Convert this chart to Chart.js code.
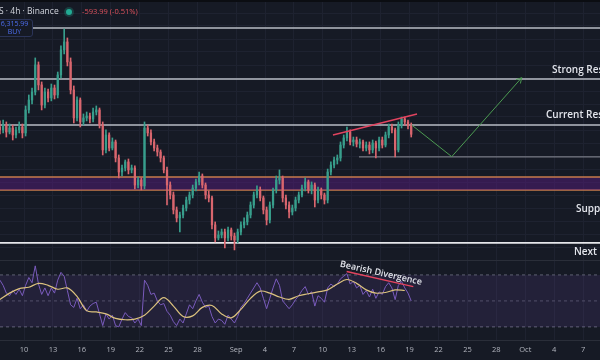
<!DOCTYPE html>
<html>
<head>
<meta charset="utf-8">
<title>BTCUSDT 4h</title>
<script src="https://cdn.jsdelivr.net/npm/chart.js@4.4.1/dist/chart.umd.min.js"></script>
<style>
  html, body { margin: 0; padding: 0; background: #161a25; }
  #frame { position: relative; width: 600px; height: 360px; overflow: hidden; background: #161a25; font-family: "Open Sans", sans-serif; }
  canvas { position: absolute; left: 0; display: block; }
  #priceCanvas { top: 0; }
  #rsiCanvas { top: 260px; }
  .topbar { position: absolute; left: 0; top: 0; width: 600px; height: 2px; background: #0b0d12; }
  .symbol { position: absolute; left: -1px; top: 5px; font-size: 8.5px; color: #d1d4dc; white-space: nowrap; }
  .dot { position: absolute; left: 66px; top: 9px; width: 6px; height: 6px; border-radius: 50%; background: #22ab94; box-shadow: 0 0 0 2px rgba(34, 171, 148, 0.25); }
  .change { position: absolute; left: 82px; top: 6px; font-size: 7.5px; color: #e0525c; white-space: nowrap; }
  .pricebox { position: absolute; left: -4px; top: 19px; width: 35px; height: 16px; border: 1px solid #2b3458; border-radius: 3px; background: #161a25; color: #4d6ef0; text-align: center; font-size: 7px; line-height: 8px; }
</style>
</head>
<body>
<div id="frame">
  <canvas id="priceCanvas" width="600" height="260"></canvas>
  <canvas id="rsiCanvas" width="600" height="100"></canvas>
  <div class="topbar"></div>
  <div class="symbol">S · 4h · Binance</div>
  <div class="dot"></div>
  <div class="change">-593.99 (-0.51%)</div>
  <div class="pricebox">6,315.99<br>BUY</div>
</div>
<script>
// x axis is "day of August" (Sep 1 = 32, Oct 1 = 62)
const tickDays = [10, 13, 16, 19, 22, 25, 28, 32, 35, 38, 41, 44, 47, 50, 53, 56, 59, 62, 65, 68];
const tickLabels = ["10", "13", "16", "19", "22", "25", "28", "Sep", "4", "7", "10", "13", "16", "19", "22", "25", "28", "Oct", "4", "7"];

// 8h candles starting Aug 7 12:00
const CANDLE_START = 7.5;
const CANDLE_STEP = 1 / 3;

const opens = [
  116880, 116650, 117030, 116490, 116800, 116260, 116650, 116880, 116420, 118200,
  118970, 119590, 121690, 120140, 118580, 119590, 119130, 119900, 119360, 120910,
  122850, 123470, 121920, 119750, 117580, 118970, 117270, 117580, 117730, 117500,
  118040, 118200, 117030, 115100, 116260, 115250, 115720, 114480, 113390, 113700,
  114170, 113550, 113700, 112380, 112770, 112310, 116800, 116420, 115720, 115250,
  114940, 114480, 113550, 112380, 111610, 110450, 109830, 110060, 110600, 111220,
  111610, 112150, 112620, 113080, 112380, 111610, 111380, 109290, 108280, 108510,
  108740, 108280, 108900, 108430, 108120, 108740, 109290, 109520, 110060, 110830,
  111610, 112000, 111380, 110450, 109670, 110830, 112000, 112770, 112930, 111380,
  110830, 110290, 110600, 111220, 111610, 112150, 112620, 112000, 112380, 111220,
  112000, 111610, 111220, 113390, 113930, 114320, 114480, 115480, 116030, 116490,
  115720, 115870, 115560, 115720, 115250, 115480, 115100, 115640, 115250, 115870,
  115480, 116260, 116880, 116650, 115100, 117030, 117500, 117270, 116960
];
const highs = [
  117350, 117420, 117270, 117110, 117030, 116880, 117270, 117110, 118510, 119360,
  119900, 122230, 121920, 120370, 119900, 119820, 120210, 120130, 121140, 123160,
  124470, 123780, 122230, 120060, 119210, 119130, 117890, 118040, 117960, 118350,
  118510, 118350, 117270, 116650, 116420, 116030, 115870, 114710, 113930, 114320,
  114400, 113930, 113860, 113000, 112930, 117270, 117030, 116650, 115950, 115480,
  115100, 114630, 113780, 112620, 111840, 110680, 110290, 110830, 111450, 111840,
  112380, 112850, 113390, 113240, 112540, 111920, 111530, 109520, 108820, 108970,
  108970, 109130, 109050, 108660, 108970, 109520, 109830, 110290, 111070, 111840,
  112310, 112230, 111530, 110680, 111070, 112150, 113080, 113550, 113080, 111610,
  111070, 110830, 111450, 111840, 112380, 112930, 112770, 112620, 112540, 112230,
  112150, 111760, 113620, 114170, 114550, 114710, 115720, 116260, 116880, 116650,
  116100, 116100, 115950, 115870, 115720, 115720, 115870, 115790, 116100, 116100,
  116490, 117110, 117110, 116800, 117270, 117650, 117650, 117420, 117190
];
const lows = [
  116340, 116420, 116100, 116340, 115870, 116030, 116420, 116030, 116180, 117960,
  118660, 119360, 119750, 118200, 118350, 118820, 118900, 119050, 119130, 120680,
  122540, 121610, 119440, 117190, 117350, 116880, 117030, 117350, 117190, 117270,
  117810, 116800, 114710, 114870, 115020, 115100, 114170, 112930, 113080, 113470,
  113240, 113320, 112080, 112150, 112000, 112080, 116180, 115490, 115020, 114630,
  114170, 113320, 110840, 111300, 110140, 109520, 108740, 109830, 110370, 110910,
  111380, 111920, 112380, 112150, 111300, 111070, 108970, 107970, 108120, 108280,
  107500, 108050, 108120, 107350, 107890, 108510, 109050, 109290, 109830, 110600,
  111380, 111150, 110140, 109290, 109440, 110600, 111760, 112460, 111070, 110520,
  109830, 110060, 110370, 110990, 111450, 111920, 111760, 111690, 110680, 110990,
  111300, 110910, 110990, 113160, 113700, 114010, 114240, 115250, 115790, 115490,
  115410, 115330, 115250, 115020, 115020, 114790, 114870, 114480, 115020, 115250,
  115330, 116030, 116420, 114550, 114940, 116800, 117030, 116730, 116100
];
const closes = [
  116650, 117030, 116490, 116800, 116260, 116650, 116880, 116420, 118200, 118970,
  119590, 121690, 120140, 118580, 119590, 119130, 119900, 119360, 120910, 122850,
  123470, 121920, 119750, 117580, 118970, 117270, 117580, 117730, 117500, 118040,
  118200, 117030, 115100, 116260, 115250, 115720, 114480, 113390, 113700, 114170,
  113550, 113700, 112380, 112770, 112310, 116800, 116420, 115720, 115250, 114940,
  114480, 113550, 112380, 111610, 110450, 109830, 110060, 110600, 111220, 111610,
  112150, 112620, 113080, 112380, 111610, 111380, 109290, 108280, 108510, 108740,
  108280, 108900, 108430, 108120, 108740, 109290, 109520, 110060, 110830, 111610,
  112000, 111380, 110450, 109670, 110830, 112000, 112770, 112930, 111380, 110830,
  110290, 110600, 111220, 111610, 112150, 112620, 112000, 112380, 111220, 112000,
  111610, 111220, 113390, 113930, 114320, 114480, 115480, 116030, 116490, 115720,
  115870, 115560, 115720, 115250, 115480, 115100, 115640, 115250, 115870, 115480,
  116260, 116880, 116650, 115100, 117030, 117500, 117270, 116960, 116316
];

// RSI(14), one value per candle
const rsiValues = [
  66, 62, 56, 54, 58, 55, 59, 54, 62, 68,
  64, 77, 63, 55, 60, 54, 60, 56, 66, 72,
  69, 58, 47, 45, 52, 44, 47, 42, 46, 48,
  49, 40, 31, 40, 36, 39, 31, 30, 36, 41,
  38, 37, 33, 36, 31, 66, 62, 55, 56, 50,
  47, 48, 42, 39, 34, 31, 36, 33, 40, 47,
  44, 50, 55, 49, 45, 46, 38, 33, 36, 35,
  32, 39, 36, 33, 38, 45, 48, 52, 56, 60,
  64, 60, 52, 44, 52, 60, 67, 62, 50, 47,
  44, 47, 51, 54, 58, 61, 55, 57, 46, 54,
  52, 49, 60, 63, 61, 63, 67, 69, 71, 63,
  65, 60, 62, 55, 58, 53, 59, 52, 57, 55,
  61, 64, 60, 51, 62, 65, 60, 56, 50
];
// RSI moving average, read once per day
const rsiMaValues = [
  51, 56, 59.5, 60.5, 63.5, 62, 59, 60, 53.5, 42.5, 41.5, 40, 36.5, 35.5, 36,
  39, 46, 52.5, 46, 38, 38.5, 45, 46.5, 40, 37, 43.5, 52, 57.5, 56, 53,
  51.2, 54, 55.5, 57, 58.5, 63, 66.5, 63.5, 58.5, 56, 56.5, 58.5, 58
];
const rsiBands = [70, 50, 30];

// drawn levels
const resistanceLevels = [124550, 120600, 117030]; // top, strong, current
const supportZone = [112000, 113000];
const nextSupport = 107890;
const neckline = 114560;
const necklineStartDay = 44.75;
const wedgeDays = [42.05, 50.77];
const wedgePrices = [116260, 117890];
const projectionDays = [50.22, 54.37, 61.63];
const projectionPrices = [117030, 114580, 120700];
const divergenceDays = [43.47, 50.38];
const divergenceRsi = [72.6, 61.0];

const levelLabels = ["Strong Resistance", "Current Resistance", "Support", "Next Support"];
const levelLabelDays = [64.77, 64.15, 67.26, 67.05];
const levelLabelPrices = [resistanceLevels[1], resistanceLevels[2], supportZone[0], nextSupport];

// ---- styling ----
const X_MIN = 7.51, X_MAX = 69.75;
const PRICE_MIN = 106570, PRICE_MAX = 126720;
const RSI_MIN = 19.9, RSI_MAX = 81.5;
const GRID = "#1e2230";
const UP = "#389e8c";
const DOWN = "#d9666e";
const LEVEL = "#b9bcc5";
const ORANGE = "#c97b4b";
const FONT = '"Open Sans", sans-serif';

const candleDays = opens.map((_, i) => CANDLE_START + i * CANDLE_STEP);
const candleColors = opens.map((o, i) => (closes[i] >= o ? UP : DOWN));
const hline = (value, from = X_MIN, to = X_MAX) => [{ x: from, y: value }, { x: to, y: value }];
const pairs = (xs, ys) => xs.map((x, i) => ({ x, y: ys[i] }));

const lineBase = { type: "line", pointRadius: 0, tension: 0, fill: false };

const xGrid = {
  type: "linear",
  min: X_MIN,
  max: X_MAX,
  offset: false,
  afterBuildTicks: (scale) => { scale.ticks = tickDays.map((v) => ({ value: v })); },
  grid: { color: GRID, drawTicks: false, offset: false },
  border: { display: false },
};

const priceNotes = {
  id: "priceNotes",
  afterDatasetsDraw(chart) {
    const { ctx, scales: { x, y } } = chart;
    ctx.save();
    // arrow head on the projected path
    const idx = chart.data.datasets.findIndex((d) => d.label === "projection");
    const pts = chart.getDatasetMeta(idx).data;
    const a = pts[pts.length - 2], b = pts[pts.length - 1];
    const ang = Math.atan2(b.y - a.y, b.x - a.x);
    ctx.strokeStyle = "#4c9a52";
    ctx.lineWidth = 1;
    ctx.beginPath();
    ctx.moveTo(b.x - 6 * Math.cos(ang - 0.5), b.y - 6 * Math.sin(ang - 0.5));
    ctx.lineTo(b.x, b.y);
    ctx.lineTo(b.x - 6 * Math.cos(ang + 0.5), b.y - 6 * Math.sin(ang + 0.5));
    ctx.stroke();

    // level captions
    const dy = [-9, -10, 19, 9];
    ctx.font = "600 10px " + FONT;
    ctx.fillStyle = "#e3e5ec";
    ctx.textBaseline = "middle";
    levelLabels.forEach((t, i) => {
      ctx.fillText(t, x.getPixelForValue(levelLabelDays[i]), y.getPixelForValue(levelLabelPrices[i]) + dy[i]);
    });
    ctx.restore();
  },
};

new Chart(document.getElementById("priceCanvas"), {
  type: "bar",
  data: {
    datasets: [
      { ...lineBase, data: hline(supportZone[1]), borderColor: ORANGE, borderWidth: 1.5,
        fill: { value: supportZone[0] }, backgroundColor: "rgba(92, 28, 132, 0.45)", order: 6 },
      { ...lineBase, data: hline(supportZone[0]), borderColor: ORANGE, borderWidth: 1.5, order: 6 },
      { ...lineBase, data: hline(resistanceLevels[0]), borderColor: LEVEL, borderWidth: 1.5, order: 5 },
      { ...lineBase, data: hline(resistanceLevels[1]), borderColor: LEVEL, borderWidth: 1.5, order: 5 },
      { ...lineBase, data: hline(resistanceLevels[2]), borderColor: LEVEL, borderWidth: 1.5, order: 5 },
      { ...lineBase, data: hline(nextSupport), borderColor: "#e6e7eb", borderWidth: 1.8, order: 5 },
      { ...lineBase, data: hline(neckline, necklineStartDay), borderColor: "#8f929b", borderWidth: 1, order: 5 },
      { type: "bar", data: candleDays.map((d, i) => ({ x: d, y: [lows[i], highs[i]] })),
        backgroundColor: candleColors, barThickness: 1, grouped: false, borderWidth: 0, order: 3 },
      { type: "bar", data: candleDays.map((d, i) => ({ x: d, y: [opens[i], closes[i]] })),
        backgroundColor: candleColors, barThickness: 1.6, grouped: false, borderWidth: 0, minBarLength: 1, order: 2 },
      { ...lineBase, data: pairs(wedgeDays, wedgePrices), borderColor: "#e2445f", borderWidth: 1.5, order: 1 },
      { ...lineBase, label: "projection", data: pairs(projectionDays, projectionPrices), borderColor: "#4c9a52", borderWidth: 1, order: 1 },
    ],
  },
  options: {
    responsive: false,
    animation: false,
    events: [],
    layout: { padding: 0, autoPadding: false },
    plugins: { legend: { display: false }, tooltip: { enabled: false } },
    scales: {
      x: { ...xGrid, ticks: { display: false } },
      y: {
        type: "linear", min: PRICE_MIN, max: PRICE_MAX,
        ticks: { display: false, stepSize: 1000 },
        grid: { color: GRID, drawTicks: false },
        border: { display: false },
      },
    },
  },
  plugins: [priceNotes],
});

const rsiNotes = {
  id: "rsiNotes",
  afterDatasetsDraw(chart) {
    const { ctx, chartArea, scales: { x, y } } = chart;
    ctx.save();
    ctx.strokeStyle = "#2a2e39";
    ctx.lineWidth = 1;
    ctx.beginPath();
    ctx.moveTo(0, chartArea.top + 0.5);
    ctx.lineTo(chart.width, chartArea.top + 0.5);
    ctx.stroke();

    ctx.translate(x.getPixelForValue(47.03), y.getPixelForValue(71.3));
    ctx.rotate(0.22);
    ctx.font = "600 9px " + FONT;
    ctx.fillStyle = "#e3e5ec";
    ctx.textAlign = "center";
    ctx.textBaseline = "middle";
    ctx.fillText("Bearish Divergence", 0, 0);
    ctx.restore();
  },
};

const dashed = (value, color) => ({ ...lineBase, data: hline(value), borderColor: color, borderWidth: 1, borderDash: [3, 3] });

new Chart(document.getElementById("rsiCanvas"), {
  type: "line",
  data: {
    datasets: [
      { ...dashed(rsiBands[0], "#5f6172"), fill: { value: rsiBands[2] }, backgroundColor: "rgba(126, 87, 194, 0.13)", order: 5 },
      { ...dashed(rsiBands[1], "#4c4e5c"), order: 5 },
      { ...dashed(rsiBands[2], "#5f6172"), order: 5 },
      { ...lineBase, data: pairs(candleDays, rsiValues), borderColor: "#7a5bbd", borderWidth: 1, order: 3 },
      { ...lineBase, data: rsiMaValues.map((v, k) => ({ x: CANDLE_START + k, y: v })), borderColor: "#dcc27e",
        borderWidth: 1.2, tension: 0.35, order: 2 },
      { ...lineBase, data: pairs(divergenceDays, divergenceRsi), borderColor: "#e2445f", borderWidth: 1.5, order: 1 },
    ],
  },
  options: {
    responsive: false,
    animation: false,
    events: [],
    layout: { padding: { bottom: 1 }, autoPadding: false },
    plugins: { legend: { display: false }, tooltip: { enabled: false } },
    scales: {
      x: {
        ...xGrid,
        border: { display: true, color: "#2a2e39" },
        ticks: {
          color: "#b2b5be", padding: 5, maxRotation: 0, autoSkip: false,
          font: { size: 7.5, family: FONT },
          callback: (v, i) => tickLabels[i],
        },
      },
      y: { type: "linear", min: RSI_MIN, max: RSI_MAX, display: false },
    },
  },
  plugins: [rsiNotes],
});
</script>
</body>
</html>
